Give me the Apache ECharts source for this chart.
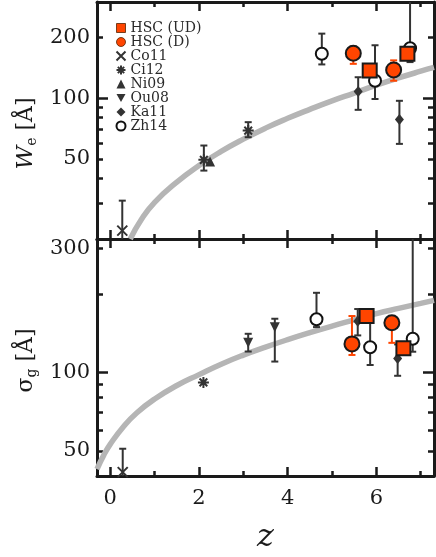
<!DOCTYPE html>
<html><head><meta charset="utf-8">
<script src="https://cdn.jsdelivr.net/npm/echarts@6/dist/echarts.min.js"></script>
<style>html,body{margin:0;padding:0;background:#fff;}#c{width:436px;height:557px;}</style>
</head><body><div id="c"></div>
<script>
// ---- axis ticks / labels ----
const zMajor = [0, 2, 4, 6];
const zMinor = [1, 3, 5, 7];
const topYLabels = [50, 100, 200];
const topYMajor = [100];
const topYMinor = [30, 40, 50, 60, 70, 80, 90, 200, 300];
const botYLabels = [50, 100, 300];
const botYMajor = [100];
const botYMinor = [50, 60, 70, 80, 90, 200, 300];

// ---- grey model curves ----
const curveTopZ = [0.45, 0.7, 1.0, 1.5, 2.0, 2.5, 3.0, 3.5, 4.0, 4.5, 5.0, 5.5, 6.0, 6.5, 7.0, 7.3];
const curveTopW = [20, 25, 30.4, 38.3, 46.3, 54.4, 62.6, 71, 79.4, 88, 97, 106, 116, 126, 136, 142];
const curveBotZ = [-0.3, -0.15, 0.0, 0.3, 0.6, 1.0, 1.5, 2.0, 2.5, 3.0, 3.5, 4.0, 4.5, 5.0, 5.5, 6.0, 6.5, 7.0, 7.3];
const curveBotS = [42.5, 48, 53, 62, 70, 79, 89, 98, 107.5, 116.5, 125, 133.5, 142, 150.5, 159, 168, 176, 184, 189];

// ---- data rows: [z, value, lower, upper] ----
// top panel: W_e
const hscUD_W = [[5.85, 137, null, null], [6.70, 166, null, null]];
const hscD_W  = [[5.48, 167, 148, 180], [6.39, 138, 122, 154]];
const co11_W  = [[0.27, 22, 15, 31]];
const ci12_W  = [[2.11, 49.4, 43.7, 58.2], [3.11, 69, 64, 76]];
const ni09_W  = [[2.25, 48.5, null, null]];
const ka11_W  = [[5.59, 108, 87.5, 127], [6.52, 78.3, 59.3, 97]];
const zh14_W  = [[4.77, 166, 147, 209], [5.97, 122, 99, 183], [6.76, 177, 151, 400]];
// bottom panel: sigma_g
const hscUD_S = [[5.78, 164.6, null, null], [6.61, 123.8, null, null]];
const hscD_S  = [[5.45, 128.6, 116.6, 164.5], [6.35, 155, 129.8, null]];
const co11_S  = [[0.28, 41.4, 30, 50.9]];
const ci12_S  = [[2.10, 91.5, null, null]];
const ou08_S  = [[3.11, 129.8, 120.2, 140.6], [3.71, 149, 110, 160.6]];
const ka11_S  = [[5.58, 157, 138.6, 175], [6.48, 113, 97, 128]];
const zh14_S  = [[4.65, 159.8, 149.2, 202], [5.86, 124.9, 106.7, 160], [6.82, 134.5, 120, 400]];

const ORANGE = '#FF4500';
const DARK = '#333333';
const AXC = '#1a1a1a';
const SERIF = 'DejaVu Serif';

const X_PATH = 'path://M0,0L10,10M10,0L0,10';
const AST_PATH = 'path://M5,0L5,10M0,5L10,5M1.5,1.5L8.5,8.5M8.5,1.5L1.5,8.5';
const DOWN_TRI = 'path://M0,0L10,0L5,9Z';

function xAxes(grid, labels) {
  const base = {
    type: 'value', gridIndex: grid, min: -0.3, max: 7.3,
    splitLine: { show: false },
    axisLine: { show: false, onZero: false },
    axisLabel: { show: false }
  };
  const res = [];
  ['bottom', 'top'].forEach(function (pos) {
    res.push(Object.assign({}, base, {
      position: pos,
      axisLine: { show: true, onZero: false, lineStyle: { color: AXC, width: 3 } },
      axisTick: { show: true, inside: true, length: 9, customValues: zMajor, lineStyle: { color: AXC, width: 2.5 } },
      axisLabel: (labels && pos === 'bottom') ? {
        show: true, customValues: zMajor, margin: 12,
        fontFamily: SERIF, fontSize: 21, color: AXC
      } : { show: false },
      name: (labels && pos === 'bottom') ? 'z' : '',
      nameLocation: 'middle', nameGap: 46,
      nameTextStyle: { fontFamily: SERIF, fontStyle: 'italic', fontSize: 32, color: AXC }
    }));
    res.push(Object.assign({}, base, {
      position: pos,
      axisTick: { show: true, inside: true, length: 5, customValues: zMinor, lineStyle: { color: AXC, width: 2.5 } }
    }));
  });
  return res;
}

function yAxes(grid, mn, mx, labels, major, minor, nameRich, namePad) {
  const base = {
    type: 'log', logBase: 10, gridIndex: grid, min: mn, max: mx,
    splitLine: { show: false }, minorTick: { show: false },
    axisLine: { show: false, onZero: false },
    axisLabel: { show: false }
  };
  const res = [];
  ['left', 'right'].forEach(function (pos) {
    res.push(Object.assign({}, base, {
      position: pos,
      axisLine: { show: true, onZero: false, lineStyle: { color: AXC, width: 3 } },
      axisTick: { show: true, inside: true, length: 11, customValues: major, lineStyle: { color: AXC, width: 2.5 } },
      axisLabel: pos === 'left' ? {
        show: true, customValues: labels, margin: 7,
        fontFamily: SERIF, fontSize: 21, color: AXC,
        formatter: function (v) { return String(Math.round(v)); }
      } : { show: false },
      name: pos === 'left' ? nameRich : '',
      nameLocation: 'middle', nameRotate: 90, nameGap: 58,
      nameTextStyle: {
        fontFamily: SERIF, fontSize: 22, color: AXC, padding: namePad,
        rich: {
          it: { fontFamily: SERIF, fontStyle: 'italic', fontSize: 23, color: AXC },
          n: { fontFamily: SERIF, fontSize: 22, color: AXC },
          sub: { fontFamily: SERIF, fontSize: 14, color: AXC, padding: [12, 0, 0, 0], verticalAlign: 'bottom' }
        }
      }
    }));
    res.push(Object.assign({}, base, {
      position: pos,
      axisTick: { show: true, inside: true, length: 6, customValues: minor, lineStyle: { color: AXC, width: 2.5 } }
    }));
  });
  return res;
}

function errSeries(rows, color, xi, yi) {
  return {
    type: 'custom', xAxisIndex: xi, yAxisIndex: yi, z: 3,
    encode: { x: 0, y: 1 },
    data: rows.map(function (r) { return [r[0], r[1], r[2] == null ? -1 : r[2], r[3] == null ? -1 : r[3]]; }),
    renderItem: function (params, api) {
      const z = api.value(0), v = api.value(1), lo = api.value(2), hi = api.value(3);
      const cs = params.coordSys;
      const top = cs.y, bot = cs.y + cs.height;
      const c = api.coord([z, v]);
      const x = c[0];
      const yHi = hi > 0 ? api.coord([z, hi])[1] : c[1];
      const yLo = lo > 0 ? api.coord([z, lo])[1] : c[1];
      const st = { stroke: color, lineWidth: 2 };
      const ch = [];
      ch.push({ type: 'line', shape: { x1: x, y1: Math.max(top, yHi), x2: x, y2: Math.min(bot, yLo) }, style: st });
      const cw = 3.5;
      if (hi > 0 && yHi >= top) ch.push({ type: 'line', shape: { x1: x - cw, y1: yHi, x2: x + cw, y2: yHi }, style: st });
      if (lo > 0 && yLo <= bot) ch.push({ type: 'line', shape: { x1: x - cw, y1: yLo, x2: x + cw, y2: yLo }, style: st });
      return { type: 'group', children: ch };
    }
  };
}

function scat(name, rows, xi, yi, symbol, size, style, zz) {
  return {
    type: 'scatter', name: name, xAxisIndex: xi, yAxisIndex: yi, z: zz || 5,
    symbol: symbol, symbolSize: size,
    data: rows.map(function (r) { return [r[0], r[1]]; }),
    itemStyle: Object.assign({ opacity: 1 }, style),
    emphasis: { disabled: true }
  };
}

function curve(zs, vs, xi, yi) {
  return {
    type: 'line', xAxisIndex: xi, yAxisIndex: yi, z: 1, smooth: 0.5,
    showSymbol: false, symbol: 'none',
    data: zs.map(function (z, i) { return [z, vs[i]]; }),
    lineStyle: { color: '#b5b5b5', width: 5.5 }, silent: true, clip: true
  };
}

const stUD = { color: ORANGE, borderColor: AXC, borderWidth: 2 };
const stD = { color: ORANGE, borderColor: AXC, borderWidth: 2 };
const stX = { color: 'none', borderColor: DARK, borderWidth: 2 };
const stDark = { color: DARK, borderColor: DARK, borderWidth: 0 };
const stZh = { color: '#111', borderColor: '#111', borderWidth: 2.2 };

const series = [];
// top panel: axes x 0, y 0
series.push(curve(curveTopZ, curveTopW, 0, 0));
series.push(errSeries(co11_W, DARK, 0, 0));
series.push(errSeries(ci12_W, DARK, 0, 0));
series.push(errSeries(ka11_W, DARK, 0, 0));
series.push(errSeries(zh14_W, DARK, 0, 0));
series.push(errSeries(hscD_W, ORANGE, 0, 0));
series.push(scat('Co11', co11_W, 0, 0, X_PATH, 10, stX));
series.push(scat('Ni09', ni09_W, 0, 0, 'triangle', 10, stDark));
series.push(scat('Ci12', ci12_W, 0, 0, AST_PATH, 11, stX));
series.push(scat('Ka11', ka11_W, 0, 0, 'diamond', [9, 11], stDark));
series.push(scat('Zh14', zh14_W, 0, 0, 'emptyCircle', 12, stZh));
series.push(scat('HSC (D)', hscD_W, 0, 0, 'circle', 15, stD, 6));
series.push(scat('HSC (UD)', hscUD_W, 0, 0, 'rect', 14, stUD, 7));
// bottom panel: axes x 4, y 4
series.push(curve(curveBotZ, curveBotS, 4, 4));
series.push(errSeries(co11_S, DARK, 4, 4));
series.push(errSeries(ou08_S, DARK, 4, 4));
series.push(errSeries(ka11_S, DARK, 4, 4));
series.push(errSeries(zh14_S, DARK, 4, 4));
series.push(errSeries(hscD_S, ORANGE, 4, 4));
series.push(scat('Co11', co11_S, 4, 4, X_PATH, 10, stX));
series.push(scat('Ci12', ci12_S, 4, 4, AST_PATH, 11, stX));
series.push(scat('Ou08', ou08_S, 4, 4, DOWN_TRI, 10, stDark));
series.push(scat('Ka11', ka11_S, 4, 4, 'diamond', [9, 11], stDark));
series.push(scat('Zh14', zh14_S, 4, 4, 'emptyCircle', 12, stZh));
series.push(scat('HSC (D)', hscD_S, 4, 4, 'circle', 15, stD, 6));
series.push(scat('HSC (UD)', hscUD_S, 4, 4, 'rect', 14, stUD, 7));

const legendNames = ['HSC (UD)', 'HSC (D)', 'Co11', 'Ci12', 'Ni09', 'Ou08', 'Ka11', 'Zh14'];
const legendData = legendNames.map(function (n) {
  if (n.indexOf('HSC') === 0) return { name: n, itemStyle: { borderWidth: 0.8, borderColor: '#552200' } };
  return { name: n };
});

const chart = echarts.init(document.getElementById('c'), null, { renderer: 'canvas' });
chart.setOption({
  animation: false,
  backgroundColor: '#fff',
  grid: [
    { left: 97, top: 2, width: 337, height: 237, outerBoundsMode: 'none', containLabel: false },
    { left: 97, top: 239, width: 337, height: 237, outerBoundsMode: 'none', containLabel: false }
  ],
  xAxis: xAxes(0, false).concat(xAxes(1, true)),
  yAxis: yAxes(0, 20, 300, topYLabels, topYMajor, topYMinor, '{it|W}{sub|e}{n| [Å]}', [0, 26, 0, 0])
    .concat(yAxes(1, 40, 325, botYLabels, botYMajor, botYMinor, '{n|σ}{sub|g}{n| [Å]}', [0, 6, 0, 0])),
  legend: {
    data: legendData, orient: 'vertical', left: 109, top: 16,
    itemWidth: 9, itemHeight: 9, itemGap: 0, selectedMode: false,
    textStyle: { fontFamily: SERIF, fontSize: 14, color: '#2a2a2a', lineHeight: 14 }
  },
  series: series
});
</script></body></html>
